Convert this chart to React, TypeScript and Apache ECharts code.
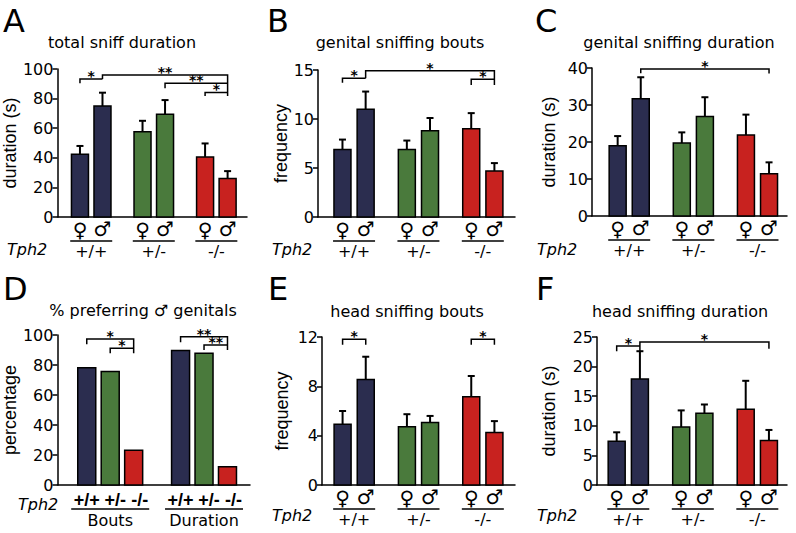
import React, { useEffect, useRef } from 'react';
import * as echarts from 'echarts';

const FONT = '"DejaVu Sans", Verdana, sans-serif';
const FONT_ARIAL = '"Liberation Sans", Arial, sans-serif';
const BAR_COLORS = ['#2b2d4f', '#4a7a3c', '#c8221f'];

const genotypes = ['+/+', '+/-', '-/-'];
const sexes = ['♀', '♂'];

// mean and SEM, order: +/+ ♀, +/+ ♂, +/- ♀, +/- ♂, -/- ♀, -/- ♂
const meanA = [42.4, 75.0, 57.6, 69.5, 40.6, 26.0];
const semA = [5.6, 9.0, 7.4, 9.5, 9.1, 5.0];
const meanB = [6.9, 11.0, 6.9, 8.8, 9.0, 4.7];
const semB = [1.0, 1.8, 0.9, 1.3, 1.6, 0.8];
const meanC = [19.0, 31.7, 19.7, 26.9, 21.9, 11.4];
const semC = [2.6, 5.8, 2.9, 5.2, 5.5, 3.1];
const meanE = [4.93, 8.55, 4.72, 5.07, 7.15, 4.26];
const semE = [1.07, 1.85, 1.02, 0.53, 1.69, 0.92];
const meanF = [7.4, 17.9, 9.8, 12.1, 12.8, 7.5];
const semF = [1.5, 4.7, 2.8, 1.5, 4.8, 1.8];

const prefGroups = ['Bouts', 'Duration'];
const prefBouts = [78.2, 75.6, 23.1];
const prefDuration = [89.6, 87.8, 12.2];

// [fromBar, toBar, yLine, yEndAtFrom, yEndAtTo, stars]
const bracketsA: any[] = [
  [0, 1, 93.2, 90.3, 93.2, '*'],
  [1, 5, 95.9, 93.2, 81.8, '**'],
  [3, 5, 90.3, 87.0, 90.3, '**'],
  [4, 5, 84.2, 81.8, 84.2, '*'],
];
const bracketsB: any[] = [
  [0, 1, 14.15, 13.7, 14.15, '*'],
  [1, 5, 14.93, 14.15, 13.47, '*'],
  [4, 5, 14.05, 13.47, 14.05, '*'],
];
const bracketsC: any[] = [[1, 5, 39.7, 38.6, 38.5, '*']];
const bracketsD: any[] = [
  [0, 2, 97.3, 93.8, 87.8, '*'],
  [1, 2, 91.1, 87.8, 91.1, '*'],
  [3, 5, 98.9, 95.1, 90.0, '**'],
  [4, 5, 93.3, 90.0, 93.3, '**'],
];
const bracketsE: any[] = [
  [0, 1, 11.81, 11.38, 11.38, '*'],
  [4, 5, 11.81, 11.38, 11.38, '*'],
];
const bracketsF: any[] = [
  [0, 1, 23.48, 22.58, 23.48, '*'],
  [1, 5, 24.16, 22.6, 23.03, '*'],
];

const SEX_OFF = 0.18;
const D_OFF = 0.25;
const D_LABEL_SHIFT = [0, 5, 6];

type Panel = {
  letter: string;
  title: string;
  yName: string;
  max: number;
  interval: number;
  kind: 'sex' | 'pref';
  mean?: number[];
  sem?: number[];
  brackets: any[];
  grid: { left: number; top: number; width: number; height: number };
  xr: [number, number];
  nameGap: number;
  titlePos: [number, number];
  letterPos: [number, number];
  tphPos: [number, number];
};

const panels: Panel[] = [
  { letter: 'A', title: 'total sniff duration', yName: 'duration (s)', max: 100, interval: 20, kind: 'sex', mean: meanA, sem: semA, brackets: bracketsA,
    grid: { left: 52, top: 69, width: 195, height: 148 }, xr: [-0.54, 2.49], nameGap: 27, titlePos: [122, 42], letterPos: [3, 21], tphPos: [7, 249] },
  { letter: 'B', title: 'genital sniffing bouts', yName: 'frequency', max: 15, interval: 5, kind: 'sex', mean: meanB, sem: semB, brackets: bracketsB,
    grid: { left: 318, top: 70, width: 197, height: 147 }, xr: [-0.56, 2.5], nameGap: 27, titlePos: [400, 42], letterPos: [267, 21], tphPos: [272, 249] },
  { letter: 'C', title: 'genital sniffing duration', yName: 'duration (s)', max: 40, interval: 10, kind: 'sex', mean: meanC, sem: semC, brackets: bracketsC,
    grid: { left: 592, top: 68, width: 195, height: 148 }, xr: [-0.58, 2.46], nameGap: 34, titlePos: [679, 42], letterPos: [535, 21], tphPos: [537, 249] },
  { letter: 'D', title: '% preferring ♂ genitals', yName: 'percentage', max: 100, interval: 20, kind: 'pref', brackets: bracketsD,
    grid: { left: 53, top: 335, width: 197, height: 150 }, xr: [-0.5625, 1.49], nameGap: 25, titlePos: [143, 310], letterPos: [3, 289], tphPos: [18, 504] },
  { letter: 'E', title: 'head sniffing bouts', yName: 'frequency', max: 12, interval: 4, kind: 'sex', mean: meanE, sem: semE, brackets: bracketsE,
    grid: { left: 322, top: 337, width: 193, height: 148 }, xr: [-0.5, 2.5], nameGap: 31, titlePos: [407, 311], letterPos: [268, 289], tphPos: [272, 515] },
  { letter: 'F', title: 'head sniffing duration', yName: 'duration (s)', max: 25, interval: 5, kind: 'sex', mean: meanF, sem: semF, brackets: bracketsF,
    grid: { left: 597, top: 337, width: 190, height: 148 }, xr: [-0.485, 2.46], nameGap: 39, titlePos: [680, 311], letterPos: [536, 289], tphPos: [537, 515] },
];

function txt(x: number, y: number, text: string, size: number, extra: any = {}) {
  return {
    type: 'text', x, y,
    style: { text, fontFamily: FONT, fontSize: size, fill: '#000', align: 'center', verticalAlign: 'middle', ...extra },
  };
}

function buildOption() {
  const grids: any[] = [];
  const xAxes: any[] = [];
  const yAxes: any[] = [];
  const series: any[] = [];
  const graphics: any[] = [];

  panels.forEach((p, i) => {
    grids.push({ ...p.grid, containLabel: false });
    xAxes.push({
      gridIndex: i, type: 'value', min: p.xr[0], max: p.xr[1],
      axisLine: { show: true, onZero: false, lineStyle: { color: '#000', width: 1.5 } },
      axisTick: { show: false }, axisLabel: { show: false }, splitLine: { show: false },
    });
    yAxes.push({
      gridIndex: i, type: 'value', min: 0, max: p.max, interval: p.interval,
      name: p.yName, nameLocation: 'middle', nameGap: p.nameGap,
      nameTextStyle: { fontFamily: FONT_ARIAL, fontSize: 18, color: '#000' },
      axisLine: { show: true, onZero: false, lineStyle: { color: '#000', width: 1.5 } },
      axisTick: { show: true, length: 5, lineStyle: { color: '#000', width: 1.5 } },
      axisLabel: { fontFamily: FONT, fontSize: 16, color: '#000', margin: 4 },
      splitLine: { show: false },
    });

    // bar data: [x, mean, sem, colorIndex]
    let bars: number[][] = [];
    let barW = 17;
    if (p.kind === 'sex') {
      genotypes.forEach((_, g) => {
        sexes.forEach((__, s) => {
          const k = g * 2 + s;
          bars.push([g + (s === 0 ? -SEX_OFF : SEX_OFF), p.mean![k], p.sem![k], g]);
        });
      });
    } else {
      barW = 18;
      [prefBouts, prefDuration].forEach((vals, g) => {
        vals.forEach((v, k) => bars.push([g + (k - 1) * D_OFF, v, 0, k]));
      });
    }
    const xs = bars.map((b) => b[0]);

    series.push({
      type: 'custom', coordinateSystem: 'cartesian2d', xAxisIndex: i, yAxisIndex: i, z: 2,
      data: bars, encode: { x: 0, y: 1 }, silent: true,
      renderItem: (params: any, api: any) => {
        const x = api.value(0), v = api.value(1), e = api.value(2), c = api.value(3);
        const base = api.coord([x, 0]);
        const top = api.coord([x, v]);
        const children: any[] = [];
        if (e > 0) {
          const et = api.coord([x, v + e]);
          children.push({ type: 'line', shape: { x1: top[0], y1: top[1], x2: top[0], y2: et[1] }, style: { stroke: '#000', lineWidth: 2 } });
          children.push({ type: 'line', shape: { x1: top[0] - 3.5, y1: et[1], x2: top[0] + 3.5, y2: et[1] }, style: { stroke: '#000', lineWidth: 2 } });
        }
        children.push({
          type: 'rect', shape: { x: base[0] - barW / 2, y: top[1], width: barW, height: base[1] - top[1] },
          style: { fill: BAR_COLORS[c], stroke: '#000', lineWidth: 1.5 },
        });
        return { type: 'group', children };
      },
    });

    const br = p.brackets;
    series.push({
      type: 'custom', coordinateSystem: 'cartesian2d', xAxisIndex: i, yAxisIndex: i, z: 3, silent: true,
      data: br.map((b) => [xs[b[0]], xs[b[1]], b[2], b[3], b[4]]), encode: { x: 0, y: 2 },
      renderItem: (params: any, api: any) => {
        const xa = api.value(0), xb = api.value(1), y = api.value(2), ya = api.value(3), yb = api.value(4);
        const pts = [api.coord([xa, ya]), api.coord([xa, y]), api.coord([xb, y]), api.coord([xb, yb])];
        const mid = api.coord([(xa + xb) / 2, y]);
        return {
          type: 'group',
          children: [
            { type: 'polyline', shape: { points: pts }, style: { stroke: '#000', lineWidth: 1.5, fill: null } },
            txt(mid[0], mid[1] - 3, br[params.dataIndex][5], 14, { fontWeight: 'bold' }),
          ],
        };
      },
    });

    if (p.kind === 'sex') {
      series.push({
        type: 'custom', coordinateSystem: 'cartesian2d', xAxisIndex: i, yAxisIndex: i, z: 3, silent: true,
        data: genotypes.map((_, g) => [g, 0]), encode: { x: 0, y: 1 },
        renderItem: (params: any, api: any) => {
          const g = api.value(0);
          const c = api.coord([g, 0]);
          const f = api.coord([g - SEX_OFF, 0]);
          const m = api.coord([g + SEX_OFF, 0]);
          return {
            type: 'group',
            children: [
              txt(f[0], c[1] + 13, sexes[0], 20),
              txt(m[0], c[1] + 12, sexes[1], 20),
              { type: 'line', shape: { x1: c[0] - 21, y1: c[1] + 24, x2: c[0] + 21, y2: c[1] + 24 }, style: { stroke: '#000', lineWidth: 1.5 } },
              txt(c[0], c[1] + 34, genotypes[params.dataIndex], 16),
            ],
          };
        },
      });
    } else {
      series.push({
        type: 'custom', coordinateSystem: 'cartesian2d', xAxisIndex: i, yAxisIndex: i, z: 3, silent: true,
        data: prefGroups.map((_, g) => [g, 0]), encode: { x: 0, y: 1 },
        renderItem: (params: any, api: any) => {
          const g = api.value(0);
          const c = api.coord([g, 0]);
          const kids: any[] = genotypes.map((gt, k) => {
            const pt = api.coord([g + (k - 1) * D_OFF, 0]);
            return txt(pt[0] + D_LABEL_SHIFT[k], c[1] + 15, gt, 18, { fontWeight: 'bold', fontFamily: FONT_ARIAL });
          });
          kids.push({ type: 'line', shape: { x1: c[0] - 39, y1: c[1] + 24, x2: c[0] + 39, y2: c[1] + 24 }, style: { stroke: '#000', lineWidth: 1.5 } });
          kids.push(txt(c[0], c[1] + 35, prefGroups[params.dataIndex], 16));
          return { type: 'group', children: kids };
        },
      });
    }

    graphics.push(txt(p.letterPos[0], p.letterPos[1], p.letter, 32, { align: 'left' }));
    graphics.push(txt(p.titlePos[0], p.titlePos[1], p.title, 16));
    graphics.push(txt(p.tphPos[0], p.tphPos[1], 'Tph2', 16, { align: 'left', fontStyle: 'italic' }));
  });

  return {
    animation: false,
    backgroundColor: '#fff',
    grid: grids,
    xAxis: xAxes,
    yAxis: yAxes,
    series,
    graphic: graphics,
  };
}

export default function App() {
  const ref = useRef<HTMLDivElement>(null);
  useEffect(() => {
    const chart = echarts.init(ref.current!, null, { renderer: 'svg' });
    chart.setOption(buildOption() as any);
    return () => chart.dispose();
  }, []);
  return <div ref={ref} style={{ position: 'fixed', left: 0, top: 0, width: 796, height: 533, background: '#fff' }} />;
}
